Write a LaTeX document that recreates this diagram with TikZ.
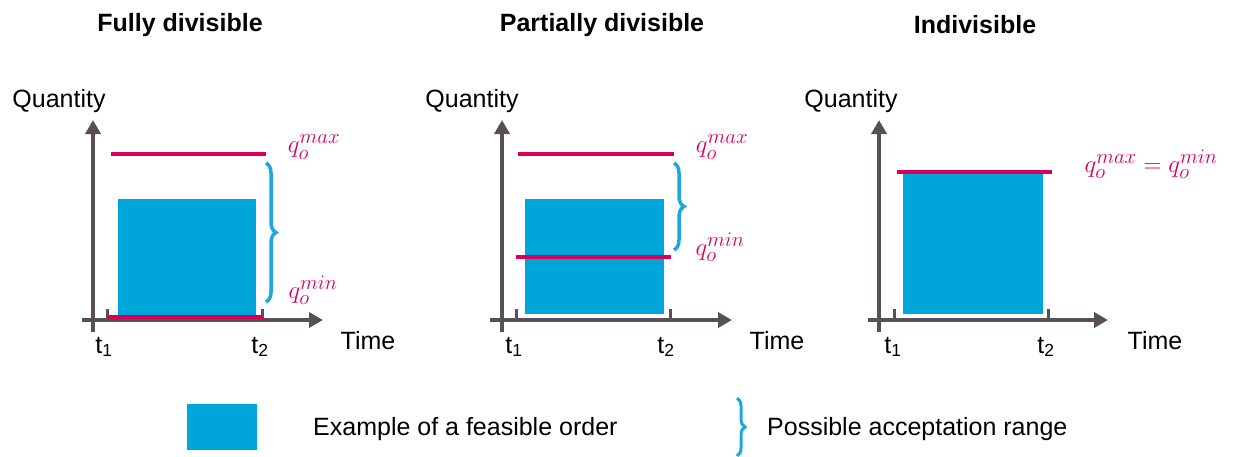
\documentclass[tikz,border=0pt]{standalone}
\usepackage{fontspec}
\setmainfont{Liberation Sans}
\DeclareMathSizes{34}{34}{22}{17}
\usetikzlibrary{arrows.meta,decorations.pathreplacing}
\definecolor{ordblue}{RGB}{0,166,218}
\definecolor{crim}{RGB}{214,0,92}
\definecolor{axisgray}{RGB}{89,80,86}
\definecolor{braceblue}{RGB}{27,168,224}
\begin{document}
\begin{tikzpicture}[x=1pt,y=-1pt,
  txt/.style={inner sep=0pt,font=\fontsize{25}{29}\selectfont},
  ttl/.style={inner sep=0pt,font=\fontsize{25}{29}\selectfont\bfseries},
  qlab/.style={inner sep=0pt,text=crim,font=\fontsize{34}{38}\selectfont},
  axisline/.style={draw=axisgray,line width=4pt,-{Triangle[length=14pt,width=15pt]}},
  plainaxis/.style={draw=axisgray,line width=4pt},
  tickmark/.style={draw=axisgray,line width=3pt},
  order/.style={fill=ordblue,draw=none},
  limit/.style={draw=crim,line width=4pt},
  rangebrace/.style={draw=braceblue,line width=3.5pt,decorate,decoration={brace,amplitude=10pt,aspect=0.5}}
]
\useasboundingbox (0,0) rectangle (1236,456);

% ---------- Panel 1: Fully divisible ----------
\node[ttl] (t1title) at (180,25) {Fully divisible};
\fill[order] (118,199) rectangle (256,315);
\draw[plainaxis] (93,332) -- (93,300);
\draw[axisline] (93,320) -- (93,120);
\draw[axisline] (82,320) -- (323,320);
\draw[tickmark] (107,309) -- (107,320);
\draw[tickmark] (262,309) -- (262,320);
\draw[limit] (111,154) -- (266,154);
\draw[limit] (107,317) -- (263,317);
\coordinate (b1top) at (266,163);
\coordinate (b1bot) at (266,302);
\draw[rangebrace] (b1top) -- (b1bot);
\node[qlab] (q1max) at (314,147) {$q_o^{max}$};
\node[qlab] (q1min) at (313,290) {$q_o^{min}$};
\node[txt] (quant1) at (59,101) {Quantity};
\node[txt] (time1) at (368,341) {Time};
\node[txt] (ta1) at (104,347) {t\textsubscript{1}};
\node[txt] (tb1) at (260,347) {t\textsubscript{2}};

% ---------- Panel 2: Partially divisible ----------
\node[ttl] (t2title) at (602,25) {Partially divisible};
\fill[order] (525,199) rectangle (664,314);
\draw[plainaxis] (502,332) -- (502,300);
\draw[axisline] (502,320) -- (502,120);
\draw[axisline] (490,320) -- (732,320);
\draw[tickmark] (516,309) -- (516,320);
\draw[tickmark] (670,309) -- (670,320);
\draw[limit] (518,154) -- (674,154);
\draw[limit] (516,257) -- (671,257);
\coordinate (b2top) at (674,163);
\coordinate (b2bot) at (674,250);
\draw[rangebrace] (b2top) -- (b2bot);
\node[qlab] (q2max) at (722,147) {$q_o^{max}$};
\node[qlab] (q2min) at (720,247) {$q_o^{min}$};
\node[txt] (quant2) at (472,101) {Quantity};
\node[txt] (time2) at (777,341) {Time};
\node[txt] (ta2) at (514,347) {t\textsubscript{1}};
\node[txt] (tb2) at (666,347) {t\textsubscript{2}};

% ---------- Panel 3: Indivisible ----------
\node[ttl] (t3title) at (975,25) {Indivisible};
\fill[order] (903,173) rectangle (1043,314);
\draw[plainaxis] (879,332) -- (879,300);
\draw[axisline] (879,320) -- (879,120);
\draw[axisline] (868,320) -- (1108,320);
\draw[tickmark] (894,309) -- (894,320);
\draw[tickmark] (1048,309) -- (1048,320);
\draw[limit] (897,172) -- (1052,172);
\node[qlab] (q3) at (1151,164) {$q_o^{max}=q_o^{min}$};
\node[txt] (quant3) at (851,101) {Quantity};
\node[txt] (time3) at (1155,341) {Time};
\node[txt] (ta3) at (893,347) {t\textsubscript{1}};
\node[txt] (tb3) at (1046,347) {t\textsubscript{2}};

% ---------- Legend ----------
\fill[order] (187,404) rectangle (257,450);
\node[txt,anchor=west] (leg1) at (313,429) {Example of a feasible order};
\coordinate (lbtop) at (737,398);
\coordinate (lbbot) at (737,456);
\draw[rangebrace,line width=3pt,decoration={brace,amplitude=8pt}] (lbtop) -- (lbbot);
\node[txt,anchor=west] (leg2) at (767,429) {Possible acceptation range};
\end{tikzpicture}
\end{document}
